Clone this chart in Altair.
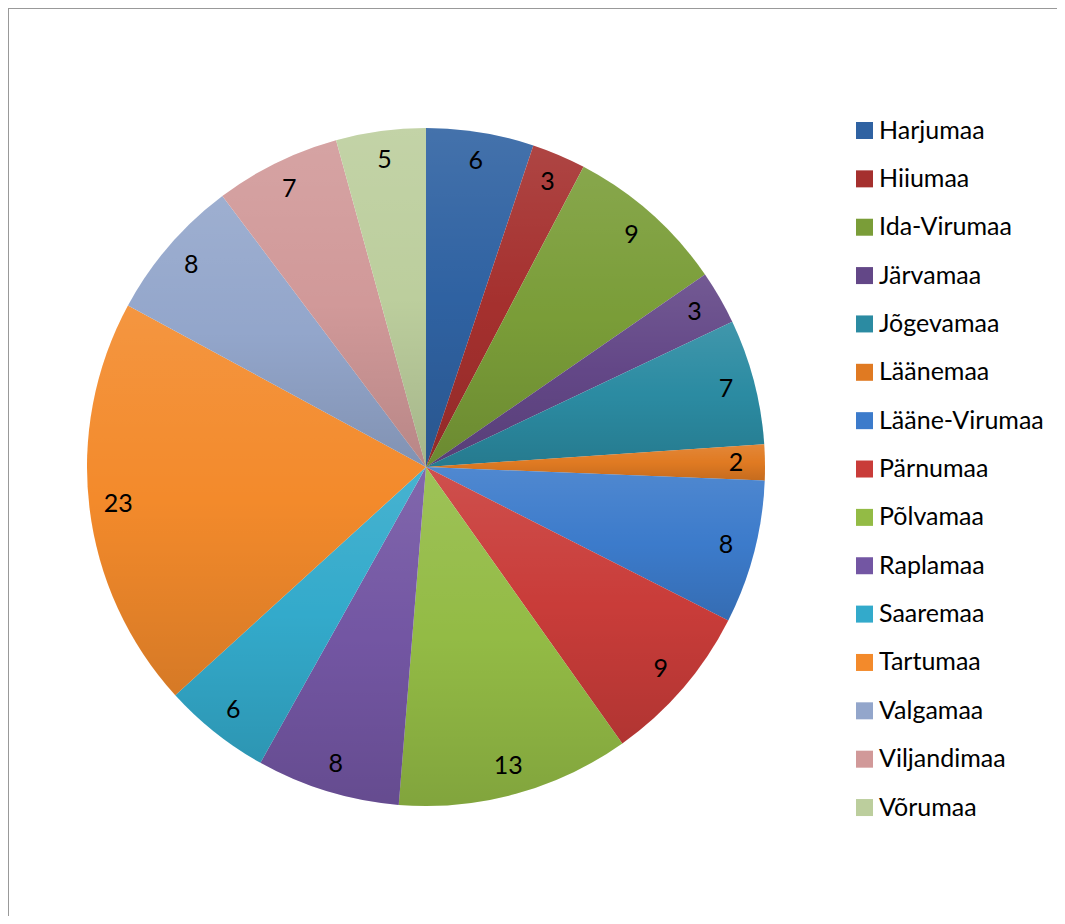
import altair as alt
import pandas as pd

counties = ["Harjumaa", "Hiiumaa", "Ida-Virumaa", "Järvamaa", "Jõgevamaa", "Läänemaa",
            "Lääne-Virumaa", "Pärnumaa", "Põlvamaa", "Raplamaa", "Saaremaa", "Tartumaa",
            "Valgamaa", "Viljandimaa", "Võrumaa"]
values = [6, 3, 9, 3, 7, 2, 8, 9, 13, 8, 6, 23, 8, 7, 5]
colors = ["#2F62A2", "#A5302E", "#7A9D38", "#634787", "#2B8BA2", "#E07A22",
          "#3C7BCB", "#C93C39", "#93BB45", "#7356A3", "#33AACB", "#F38A2B",
          "#93A6CB", "#D19999", "#BCCE9D"]

df = pd.DataFrame({"county": counties, "value": values, "idx": list(range(len(counties)))})

W, H = 1049, 908
CX, CY, R = 418, 459, 339
FONT = "Lato"

theta = alt.Theta("value:Q", stack=True)
order = alt.Order("idx:Q", sort="ascending")

base = alt.Chart(df)

pie = base.mark_arc(outerRadius=R, stroke=None).encode(
    theta=theta,
    order=order,
    x=alt.value(CX),
    y=alt.value(CY),
    color=alt.Color(
        "county:N",
        scale=alt.Scale(domain=counties, range=colors),
        sort=counties,
        legend=alt.Legend(
            title=None,
            orient="none",
            legendX=844,
            legendY=110,
            symbolType="square",
            symbolSize=289,
            symbolStrokeWidth=0,
            labelFont=FONT,
            labelFontSize=25,
            labelColor="#000000",
            labelOffset=2,
            rowPadding=22.36,
            labelLimit=300,
        ),
    ),
)

shade = base.mark_arc(
    outerRadius=R,
    fill={
        "gradient": "linear",
        "x1": 0, "y1": 0, "x2": 0, "y2": 1,
        "stops": [
            {"offset": 0, "color": "rgba(255,255,255,0.10)"},
            {"offset": 0.5, "color": "rgba(255,255,255,0)"},
            {"offset": 0.5, "color": "rgba(0,0,0,0)"},
            {"offset": 1, "color": "rgba(0,0,0,0.12)"},
        ],
    },
).encode(theta=theta, order=order, x=alt.value(CX), y=alt.value(CY))

labels = base.mark_text(font=FONT, fontSize=25, color="#000000", radius=310).encode(
    theta=theta,
    order=order,
    x=alt.value(CX),
    y=alt.value(CY),
    text=alt.Text("value:Q"),
)

frame_top = base.mark_rule(color="#999999", strokeWidth=2).encode(
    x=alt.value(0), x2=alt.value(W), y=alt.value(0)
)
frame_left = base.mark_rule(color="#999999", strokeWidth=2).encode(
    x=alt.value(0), y=alt.value(0), y2=alt.value(H)
)

chart = alt.layer(pie, shade, labels, frame_top, frame_left).properties(
    width=W, height=H, padding=0, autosize=alt.AutoSizeParams(type="none")
).configure_view(stroke=None)

chart.save("out.html", embed_options={"renderer": "svg", "actions": False})
